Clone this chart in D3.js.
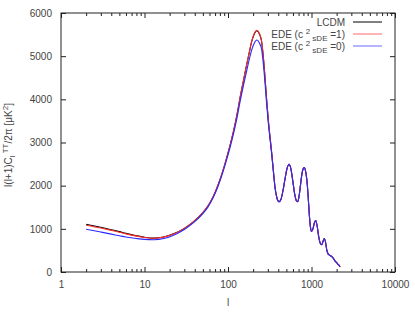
<!DOCTYPE html>
<html>
<head>
<meta charset="utf-8">
<script src="https://cdn.jsdelivr.net/npm/d3@7"></script>
<style>
  body { margin: 0; background: #fff; }
  text { font-family: "Liberation Sans", Arial, sans-serif; fill: #444; }
</style>
</head>
<body>
<svg id="chart" width="415" height="312"></svg>
<script>
// multipoles
const ells = [2, 3, 4, 5, 6, 8, 10, 13, 17, 23, 30, 40, 50, 58, 67, 76, 86, 96, 106, 116,
  128, 139, 153, 167, 180, 192, 206, 221, 237, 253, 265, 277, 290, 304, 319, 334, 350, 365, 385, 408,
  430, 455, 480, 510, 538, 565, 595, 630, 660, 683, 710, 740, 765, 790, 820, 850, 880, 910, 940, 970,
  1000, 1040, 1080, 1122, 1170, 1220, 1270, 1325, 1380, 1423, 1470, 1520, 1580, 1650, 1750, 1820, 1900, 2000, 2100, 2200];

const lcdm = [1105, 1035, 980, 935, 895, 840, 805, 785, 810, 895, 1010, 1190, 1375, 1540, 1760, 2015, 2320, 2634, 2940, 3250,
  3640, 4024, 4430, 4795, 5090, 5335, 5510, 5590, 5520, 5335, 4980, 4525, 4000, 3521, 3120, 2749, 2330, 1976, 1720, 1629,
  1680, 1880, 2140, 2400, 2495, 2400, 2130, 1800, 1650, 1629, 1760, 2030, 2250, 2380, 2420, 2330, 2130, 1780, 1350, 1050,
  940, 1000, 1130, 1190, 1060, 820, 670, 630, 720, 775, 700, 520, 420, 390, 355, 320, 265, 215, 170, 120];

const edeC1 = [1085, 1018, 965, 922, 884, 832, 800, 782, 808, 893, 1010, 1190, 1375, 1540, 1760, 2015, 2320, 2634, 2940, 3250,
  3640, 4024, 4430, 4800, 5095, 5340, 5520, 5600, 5530, 5340, 4980, 4525, 4000, 3521, 3120, 2749, 2330, 1976, 1720, 1629,
  1680, 1880, 2140, 2400, 2495, 2400, 2130, 1800, 1650, 1629, 1760, 2030, 2250, 2380, 2420, 2330, 2130, 1780, 1350, 1050,
  940, 1000, 1130, 1190, 1060, 820, 670, 630, 720, 775, 700, 520, 420, 390, 355, 320, 265, 215, 170, 120];

const edeC0 = [990, 925, 878, 840, 810, 775, 755, 748, 775, 865, 985, 1165, 1350, 1515, 1735, 1985, 2285, 2590, 2890, 3190,
  3565, 3930, 4320, 4650, 4930, 5140, 5300, 5375, 5310, 5150, 4820, 4400, 3900, 3450, 3070, 2725, 2315, 1965, 1715, 1625,
  1680, 1880, 2140, 2400, 2495, 2400, 2130, 1800, 1650, 1629, 1760, 2030, 2250, 2380, 2420, 2330, 2130, 1780, 1350, 1050,
  940, 1000, 1130, 1190, 1060, 820, 670, 630, 720, 775, 700, 520, 420, 390, 355, 320, 265, 215, 170, 120];

const xTicks = [1, 10, 100, 1000, 10000];
const yTicks = [0, 1000, 2000, 3000, 4000, 5000, 6000];
const series = [
  { key: 'lcdm', values: lcdm, color: '#000000', legend: '#000000' },
  { key: 'c1', values: edeC1, color: '#ff2a2a', legend: '#ff6a6a' },
  { key: 'c0', values: edeC0, color: '#2a2aff', legend: '#6a6aff' }
];

const svg = d3.select('#chart');
const plot = { left: 61, right: 395, top: 13, bottom: 272 };

const x = d3.scaleLog().domain([1, 10000]).range([plot.left, plot.right]);
const y = d3.scaleLinear().domain([0, 6000]).range([plot.bottom, plot.top]);

// minor log ticks 2..9 in every decade
const minorTicks = [];
for (let dec = 1; dec < 10000; dec *= 10) {
  for (let k = 2; k <= 9; k++) minorTicks.push(dec * k);
}

const fmt = d3.format('d');

// bottom axis, ticks pointing inward
svg.append('g').attr('transform', `translate(0,${plot.bottom})`)
  .call(d3.axisBottom(x).tickValues(xTicks).tickFormat(fmt).tickSizeInner(-5).tickSizeOuter(0).tickPadding(9));
svg.append('g').attr('transform', `translate(0,${plot.bottom})`)
  .call(d3.axisBottom(x).tickValues(minorTicks).tickFormat('').tickSizeInner(-3).tickSizeOuter(0));
// top mirror
svg.append('g').attr('transform', `translate(0,${plot.top})`)
  .call(d3.axisTop(x).tickValues(xTicks).tickFormat('').tickSizeInner(-5).tickSizeOuter(0));
svg.append('g').attr('transform', `translate(0,${plot.top})`)
  .call(d3.axisTop(x).tickValues(minorTicks).tickFormat('').tickSizeInner(-3).tickSizeOuter(0));

// left axis
svg.append('g').attr('transform', `translate(${plot.left},0)`)
  .call(d3.axisLeft(y).tickValues(yTicks).tickFormat(fmt).tickSizeInner(-5).tickSizeOuter(0).tickPadding(9));
// right mirror
svg.append('g').attr('transform', `translate(${plot.right},0)`)
  .call(d3.axisRight(y).tickValues(yTicks).tickFormat('').tickSizeInner(-5).tickSizeOuter(0));

svg.selectAll('.domain').remove();
svg.selectAll('.tick line').attr('stroke', '#222');
svg.selectAll('.tick text').attr('font-size', 10).attr('fill', '#444');

// frame
svg.append('rect')
  .attr('x', plot.left).attr('y', plot.top)
  .attr('width', plot.right - plot.left).attr('height', plot.bottom - plot.top)
  .attr('fill', 'none').attr('stroke', '#222').attr('stroke-width', 1);

// curves
const line = d3.line()
  .x((d, i) => x(ells[i]))
  .y(d => y(d))
  .curve(d3.curveMonotoneX);

series.forEach(s => {
  svg.append('path')
    .datum(s.values)
    .attr('fill', 'none')
    .attr('stroke', s.color)
    .attr('stroke-width', 1.1)
    .attr('d', line);
});

// legend
const legendRows = [22, 34, 46];
const textX = 345;
legendRows.forEach((ry, i) => {
  svg.append('line')
    .attr('x1', 353).attr('x2', 382)
    .attr('y1', ry).attr('y2', ry)
    .attr('stroke', series[i].legend).attr('stroke-width', 1);
});

svg.append('text')
  .attr('x', textX).attr('y', legendRows[0] + 4)
  .attr('text-anchor', 'end').attr('font-size', 10)
  .text('LCDM');

const edeLabel = (ry, val) => {
  const t = svg.append('text')
    .attr('x', textX).attr('y', ry + 4)
    .attr('text-anchor', 'end').attr('font-size', 10);
  t.append('tspan').text('EDE (c ');
  t.append('tspan').attr('dy', -4).attr('font-size', 8).text('2 ');
  t.append('tspan').attr('dy', 7).attr('font-size', 8).text('sDE');
  t.append('tspan').attr('dy', -3).text(' =' + val + ')');
};
edeLabel(legendRows[1], 1);
edeLabel(legendRows[2], 0);

// axis titles
svg.append('text')
  .attr('x', 228).attr('y', 306)
  .attr('text-anchor', 'middle').attr('font-size', 10)
  .text('l');

const yl = svg.append('text')
  .attr('transform', 'translate(12,145) rotate(-90)')
  .attr('text-anchor', 'middle').attr('font-size', 10);
yl.append('tspan').text('l(l+1)C');
yl.append('tspan').attr('dy', 3).attr('font-size', 8).text('l');
yl.append('tspan').attr('dy', -7).attr('font-size', 8).text(' TT');
yl.append('tspan').attr('dy', 4).text('/2π [μK');
yl.append('tspan').attr('dy', -4).attr('font-size', 8).text('2');
yl.append('tspan').attr('dy', 4).text(']');
</script>
</body>
</html>
